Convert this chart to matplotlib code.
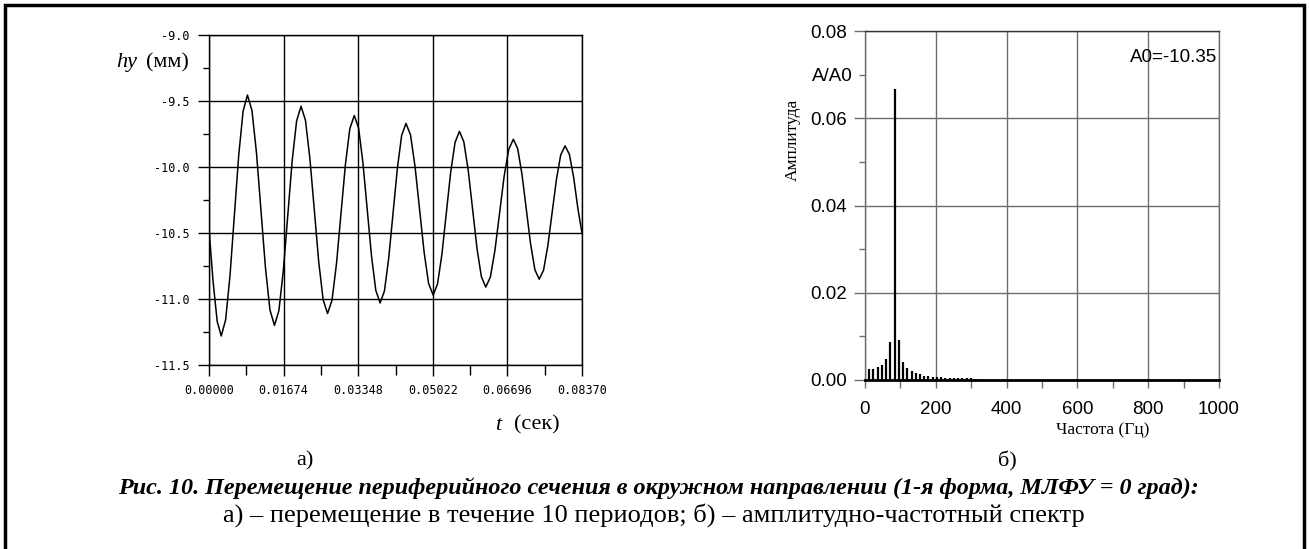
import matplotlib
matplotlib.use("Agg")
import matplotlib.pyplot as plt
from matplotlib.patches import Rectangle

# --- data ---
# left panel: displacement hy (mm) vs time t (s)
t_vals = [0.0, 0.00092, 0.00184, 0.00275,
          0.00373, 0.00471, 0.00569, 0.00667, 0.00765, 0.00863,
          0.00964, 0.01065, 0.01166, 0.01267, 0.01368, 0.01469,
          0.01568, 0.01668, 0.01767, 0.01866, 0.01966, 0.02065,
          0.02164, 0.02263, 0.02363, 0.02462, 0.02561, 0.0266,
          0.0276, 0.0286, 0.0296, 0.0306, 0.0316, 0.0326,
          0.03357, 0.03453, 0.0355, 0.03647, 0.03743, 0.0384,
          0.03937, 0.04033, 0.0413, 0.04227, 0.04323, 0.0442,
          0.04522, 0.04623, 0.04725, 0.04827, 0.04928, 0.0503,
          0.05128, 0.05227, 0.05325, 0.05423, 0.05522, 0.0562,
          0.05718, 0.05817, 0.05915, 0.06013, 0.06112, 0.0621,
          0.06313, 0.06417, 0.0652, 0.06623, 0.06727, 0.0683,
          0.06927, 0.07023, 0.0712, 0.07217, 0.07313, 0.0741,
          0.07507, 0.07603, 0.077, 0.07797, 0.07893, 0.0799,
          0.08087, 0.08183, 0.0828, 0.0837]
hy_vals = [-10.47, -10.87, -11.17, -11.28,
           -11.158, -10.824, -10.368, -9.911, -9.577, -9.455,
           -9.572, -9.891, -10.328, -10.764, -11.083, -11.20,
           -11.089, -10.785, -10.37, -9.955, -9.651, -9.54,
           -9.645, -9.933, -10.325, -10.718, -11.005, -11.11,
           -11.01, -10.735, -10.36, -9.985, -9.71, -9.61,
           -9.705, -9.965, -10.32, -10.675, -10.935, -11.03,
           -10.939, -10.69, -10.35, -10.01, -9.761, -9.67,
           -9.757, -9.995, -10.32, -10.645, -10.883, -10.97,
           -10.887, -10.66, -10.35, -10.04, -9.813, -9.73,
           -9.809, -10.025, -10.32, -10.615, -10.831, -10.91,
           -10.835, -10.63, -10.35, -10.07, -9.865, -9.79,
           -9.861, -10.055, -10.32, -10.585, -10.779, -10.85,
           -10.782, -10.598, -10.345, -10.093, -9.908, -9.84,
           -9.904, -10.08, -10.32, -10.50]
t_ticks = [0.0, 0.01674, 0.03348, 0.05022, 0.06696, 0.0837]
t_ticklabels = ["0.00000", "0.01674", "0.03348", "0.05022", "0.06696", "0.08370"]
hy_ticks = [-11.5, -11.0, -10.5, -10.0, -9.5, -9.0]
hy_ticklabels = ["-11.5", "-11.0", "-10.5", "-10.0", "-9.5", "-9.0"]

# right panel: amplitude spectrum A/A0 vs frequency (Hz), step 1/T
df = 11.95
spec_amp = [0.0026, 0.0026, 0.0029, 0.0034, 0.0048, 0.0088, 0.0666, 0.0092,
            0.0042, 0.0027, 0.0020, 0.0015, 0.0013, 0.00100, 0.00090, 0.00075,
            0.00065, 0.00058, 0.00052, 0.00048, 0.00045, 0.00042, 0.00040,
            0.00038, 0.00036, 0.00034, 0.00032]
spec_freq = [df * (i + 1) for i in range(len(spec_amp))]
f_ticks = [0, 200, 400, 600, 800, 1000]
a_ticks = [0.00, 0.02, 0.04, 0.06, 0.08]
A0 = -10.35

W, H = 1309, 549
fig = plt.figure(figsize=(W / 100, H / 100), dpi=100)

def px(x0, y0, x1, y1):
    return [x0 / W, 1 - y1 / H, (x1 - x0) / W, (y1 - y0) / H]

# ---------- left panel ----------
ax1 = fig.add_axes(px(209, 35, 582, 365))
ax1.plot(t_vals, hy_vals, color="black", lw=1.1)
ax1.set_xlim(0, 0.0837)
ax1.set_ylim(-11.5, -9.0)
ax1.set_xticks(t_ticks)
ax1.set_xticklabels(t_ticklabels)
ax1.set_xticks([0.00837 + 0.01674 * i for i in range(5)], minor=True)
ax1.set_yticks(hy_ticks)
ax1.set_yticklabels(hy_ticklabels)
ax1.set_yticks([-11.25, -10.75, -10.25, -9.75, -9.25], minor=True)
ax1.grid(True, which="major", color="black", lw=1)
for s in ax1.spines.values():
    s.set_color("black")
    s.set_linewidth(1)
ax1.tick_params(which="major", length=8, width=1, pad=6, labelsize=8.5)
ax1.tick_params(which="minor", length=4, width=1)
ax1.tick_params(axis="x", which="minor", length=7)
for lab in ax1.get_xticklabels() + ax1.get_yticklabels():
    lab.set_family("DejaVu Sans Mono")

fig.text(116 / W, 1 - 63 / H, "hy", family="Liberation Serif", style="italic",
         fontsize=16, ha="left", va="center")
fig.text(146 / W, 1 - 63 / H, "(мм)", family="Liberation Serif",
         fontsize=16, ha="left", va="center")
fig.text(495 / W, 1 - 425 / H, "t", family="Liberation Serif", style="italic",
         fontsize=16, ha="left", va="center")
fig.text(514 / W, 1 - 425 / H, "(сек)", family="Liberation Serif",
         fontsize=16, ha="left", va="center")

# ---------- right panel ----------
grey = "#6e6e6e"
ax2 = fig.add_axes(px(865, 31, 1219, 380))
ax2.vlines(spec_freq, 0, spec_amp, color="black", lw=1.6)
ax2.set_xlim(0, 1000)
ax2.set_ylim(0, 0.08)
ax2.set_xticks(f_ticks)
ax2.set_xticks([100, 300, 500, 700, 900], minor=True)
ax2.set_yticks(a_ticks)
ax2.set_yticklabels(["0.00", "0.02", "0.04", "0.06", "0.08"])
ax2.set_yticks([0.01, 0.03, 0.05, 0.07], minor=True)
ax2.set_yticklabels(["", "", "", "A/A0"], minor=True)
ax2.grid(True, which="major", color=grey, lw=1)
for s in ax2.spines.values():
    s.set_color(grey)
    s.set_linewidth(1)
ax2.spines["bottom"].set_color("black")
ax2.spines["bottom"].set_linewidth(2)
ax2.spines["top"].set_color("#333333")
ax2.tick_params(which="major", length=8, width=1, color=grey, pad=5,
                labelsize=13.5)
ax2.tick_params(which="minor", length=4, width=1, color=grey, pad=5,
                labelsize=13.5)
ax2.tick_params(axis="x", which="both", length=6, pad=9)
for lab in (ax2.get_xticklabels() + ax2.get_yticklabels()
            + ax2.get_yticklabels(minor=True)):
    lab.set_family("Liberation Sans")
ax2.text(994, 0.074, "A0=%.2f" % A0, family="Liberation Sans", fontsize=13.5,
         ha="right", va="center")
fig.text(793 / W, 1 - 140 / H, "Амплитуда", family="Liberation Serif",
         fontsize=12.5, rotation=90, ha="center", va="center")
fig.text(1103 / W, 1 - 430 / H, "Частота (Гц)", family="Liberation Serif",
         fontsize=12.5, ha="center", va="center")

# ---------- panel labels and caption ----------
fig.text(305 / W, 1 - 461 / H, "а)", family="Liberation Serif", fontsize=16,
         ha="center", va="center")
fig.text(1007 / W, 1 - 461 / H, "б)", family="Liberation Serif", fontsize=16,
         ha="center", va="center")
fig.text(658 / W, 1 - 488 / H,
         "Рис. 10. Перемещение периферийного сечения в окружном направлении "
         "(1-я форма, МЛФУ = 0 град):",
         family="Liberation Serif", style="italic", weight="bold",
         fontsize=17.4, ha="center", va="center")
fig.text(654 / W, 1 - 515 / H,
         "а) – перемещение в течение 10 периодов; б) – амплитудно-частотный спектр",
         family="Liberation Serif", fontsize=19, ha="center", va="center")

# outer frame
fig.add_artist(Rectangle((5 / W, -0.02), 1299 / W, 1 - 5 / H + 0.02,
                         transform=fig.transFigure, fill=False,
                         edgecolor="black", lw=2.5))

fig.savefig("out.png", dpi=100)
